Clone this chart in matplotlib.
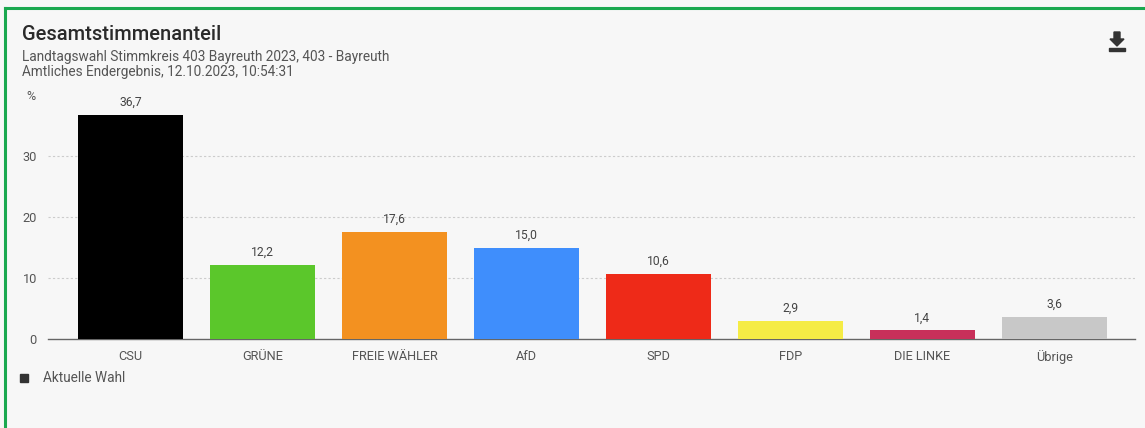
import matplotlib
matplotlib.use("Agg")
import matplotlib.pyplot as plt
from matplotlib.patches import Polygon, Rectangle
from matplotlib.lines import Line2D

parties = ["CSU", "GRÜNE", "FREIE WÄHLER", "AfD", "SPD", "FDP", "DIE LINKE", "Übrige"]
values = [36.7, 12.2, 17.6, 15.0, 10.6, 2.9, 1.4, 3.6]
labels = ["36,7", "12,2", "17,6", "15,0", "10,6", "2,9", "1,4", "3,6"]
colors = ["#000000", "#5bc72b", "#f39120", "#3f8efc", "#ee2a18", "#f5ec45", "#c8305a", "#c8c8c8"]
yticks = [0, 10, 20, 30]

plt.rcParams['font.family'] = ['Roboto', 'DejaVu Sans']
W, H = 1145, 428
fig = plt.figure(figsize=(W/100, H/100), dpi=100)
fig.patch.set_facecolor("#f7f7f7")

# axes: x from 48 to 1135 px, y: 0 at 339px, 40 at 95px
ax = fig.add_axes([48/W, 1-339/H, (1135-48)/W, (339-95)/H])
ax.set_facecolor("none")
x = list(range(len(parties)))
ax.bar(x, values, width=0.8, color=colors, zorder=3)
for xi, v, lab in zip(x, values, labels):
    ax.text(xi, v + 1.0, lab, ha="center", va="bottom", fontsize=8.7, color="#444444")
ax.set_xlim(-0.625, 7.61)
ax.set_ylim(0, 40)
ax.set_yticks(yticks)
ax.set_yticklabels([str(t) for t in yticks])
ax.set_xticks(x)
ax.set_xticklabels(parties)
for sp in ["top", "right", "left"]:
    ax.spines[sp].set_visible(False)
ax.spines["bottom"].set_color("#666666")
ax.spines["bottom"].set_linewidth(1.0)
ax.tick_params(axis="both", length=0, labelsize=9.2, colors="#555555")
ax.tick_params(axis="y", pad=8)
ax.tick_params(axis="x", pad=8)
for t in [10, 20, 30]:
    ax.axhline(t, color="#cccccc", linestyle=(0, (2, 2)), linewidth=0.8, zorder=1)

fig.text(31/W, 1-96/H, "%", ha="center", va="center", fontsize=9, color="#555555")

# titles
fig.text(22/W, 1-40/H, "Gesamtstimmenanteil", fontsize=14.5, fontweight="medium", color="#2a2a2a", va="baseline")
fig.text(22/W, 1-61/H, "Landtagswahl Stimmkreis 403 Bayreuth 2023, 403 - Bayreuth", fontsize=9.8, color="#555555", va="baseline")
fig.text(22/W, 1-76/H, "Amtliches Endergebnis, 12.10.2023, 10:54:31", fontsize=9.8, color="#555555", va="baseline")

# legend
fig.patches.append(Rectangle((20/W, 1-382/H), 8/W, 8/H, transform=fig.transFigure, color="#333333"))
fig.text(43/W, 1-377.5/H, "Aktuelle Wahl", fontsize=9.8, color="#555555", va="center")

# green border (top & left)
fig.lines.append(Line2D([5/W, 1], [1-8/H, 1-8/H], transform=fig.transFigure, color="#1aa84f", linewidth=2.2))
fig.lines.append(Line2D([5/W, 5/W], [0, 1-8/H], transform=fig.transFigure, color="#1aa84f", linewidth=2.2))

# download icon
cx = 1117
arrow = [(cx-3, 32), (cx+3, 32), (cx+3, 39), (cx+7, 39), (cx, 46), (cx-7, 39), (cx-3, 39)]
fig.patches.append(Polygon([(px/W, 1-py/H) for px, py in arrow], closed=True, transform=fig.transFigure, color="#333333"))
fig.patches.append(Rectangle(((cx-8)/W, 1-51/H), 16/W, 2.5/H, transform=fig.transFigure, color="#333333"))

fig.savefig("out.png", dpi=100, facecolor=fig.get_facecolor())
